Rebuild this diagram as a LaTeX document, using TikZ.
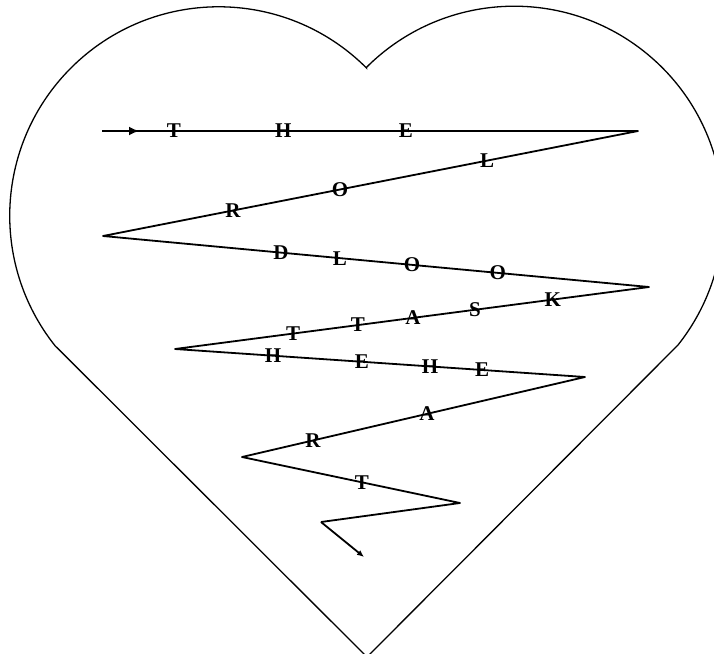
\documentclass[tikz,border=0pt]{standalone}
\usepackage{fontspec}
\setmainfont{Liberation Serif}
\usetikzlibrary{arrows.meta}
\tikzset{
  heartline/.style = {line width=1.3pt, black},
  zigzag/.style    = {line width=1.8pt, black, line join=round},
  chr/.style       = {font=\bfseries\fontsize{21}{21}\selectfont, inner sep=0pt},
  headtip/.style   = {-{Latex[length=10pt,width=9pt]}},
  endtip/.style    = {-{Latex[length=7pt,width=6pt]}},
}

\begin{document}
\begin{tikzpicture}[x=1pt, y=-1pt]
  \useasboundingbox (0,0) rectangle (714,653);
  % heart outline
  \draw[heartline] (366.5,68)
    arc [start angle=-45, end angle=-218.4, radius=209]
    -- (367,657) -- (678,345)
    arc [start angle=38.4, end angle=-135, radius=209] -- cycle;
  % corners of the zigzag
  \coordinate (z0) at (102,131);
  \coordinate (zm) at (139,131);
  \coordinate (z1) at (638,131);
  \coordinate (z2) at (103,236);
  \coordinate (z3) at (649,287);
  \coordinate (z4) at (175,349);
  \coordinate (z5) at (585,377);
  \coordinate (z6) at (242,457);
  \coordinate (z7) at (460,503);
  \coordinate (z8) at (321,522);
  \coordinate (z9) at (364,557);
  \draw[zigzag] (z0) -- (z1) -- (z2) -- (z3) -- (z4) -- (z5) -- (z6) -- (z7) -- (z8);
  \draw[zigzag, headtip] (z0) -- (zm);
  \draw[zigzag, endtip] (z8) -- (z9);
  % the words
  \path (z0) -- (z1)
    node[chr, pos=0.134] (the1) {T}
    node[chr, pos=0.338] (the2) {H}
    node[chr, pos=0.567] (the3) {E};
  \path (z1) -- (z2)
    node[chr, pos=0.282] (lord1) {L}
    node[chr, pos=0.557] (lord2) {O}
    node[chr, pos=0.757] (lord3) {R};
  \path (z2) -- (z3)
    node[chr, pos=0.326] (lord4) {D}
    node[chr, pos=0.434] (looks1) {L}
    node[chr, pos=0.566] (looks2) {O}
    node[chr, pos=0.723] (looks3) {O};
  \path (z3) -- (z4)
    node[chr, pos=0.203] (looks4) {K}
    node[chr, pos=0.367] (looks5) {S}
    node[chr, pos=0.498] (at1) {A}
    node[chr, pos=0.614] (at2) {T}
    node[chr, pos=0.751] (the4) {T};
  \path (z4) -- (z5)
    node[chr, pos=0.239] (the5) {H}
    node[chr, pos=0.456] (the6) {E}
    node[chr, pos=0.622] (heart1) {H}
    node[chr, pos=0.749] (heart2) {E};
  \path (z5) -- (z6)
    node[chr, pos=0.461] (heart3) {A}
    node[chr, pos=0.793] (heart4) {R};
  \path (z6) -- (z7)
    node[chr, pos=0.550] (heart5) {T};
\end{tikzpicture}
\end{document}
